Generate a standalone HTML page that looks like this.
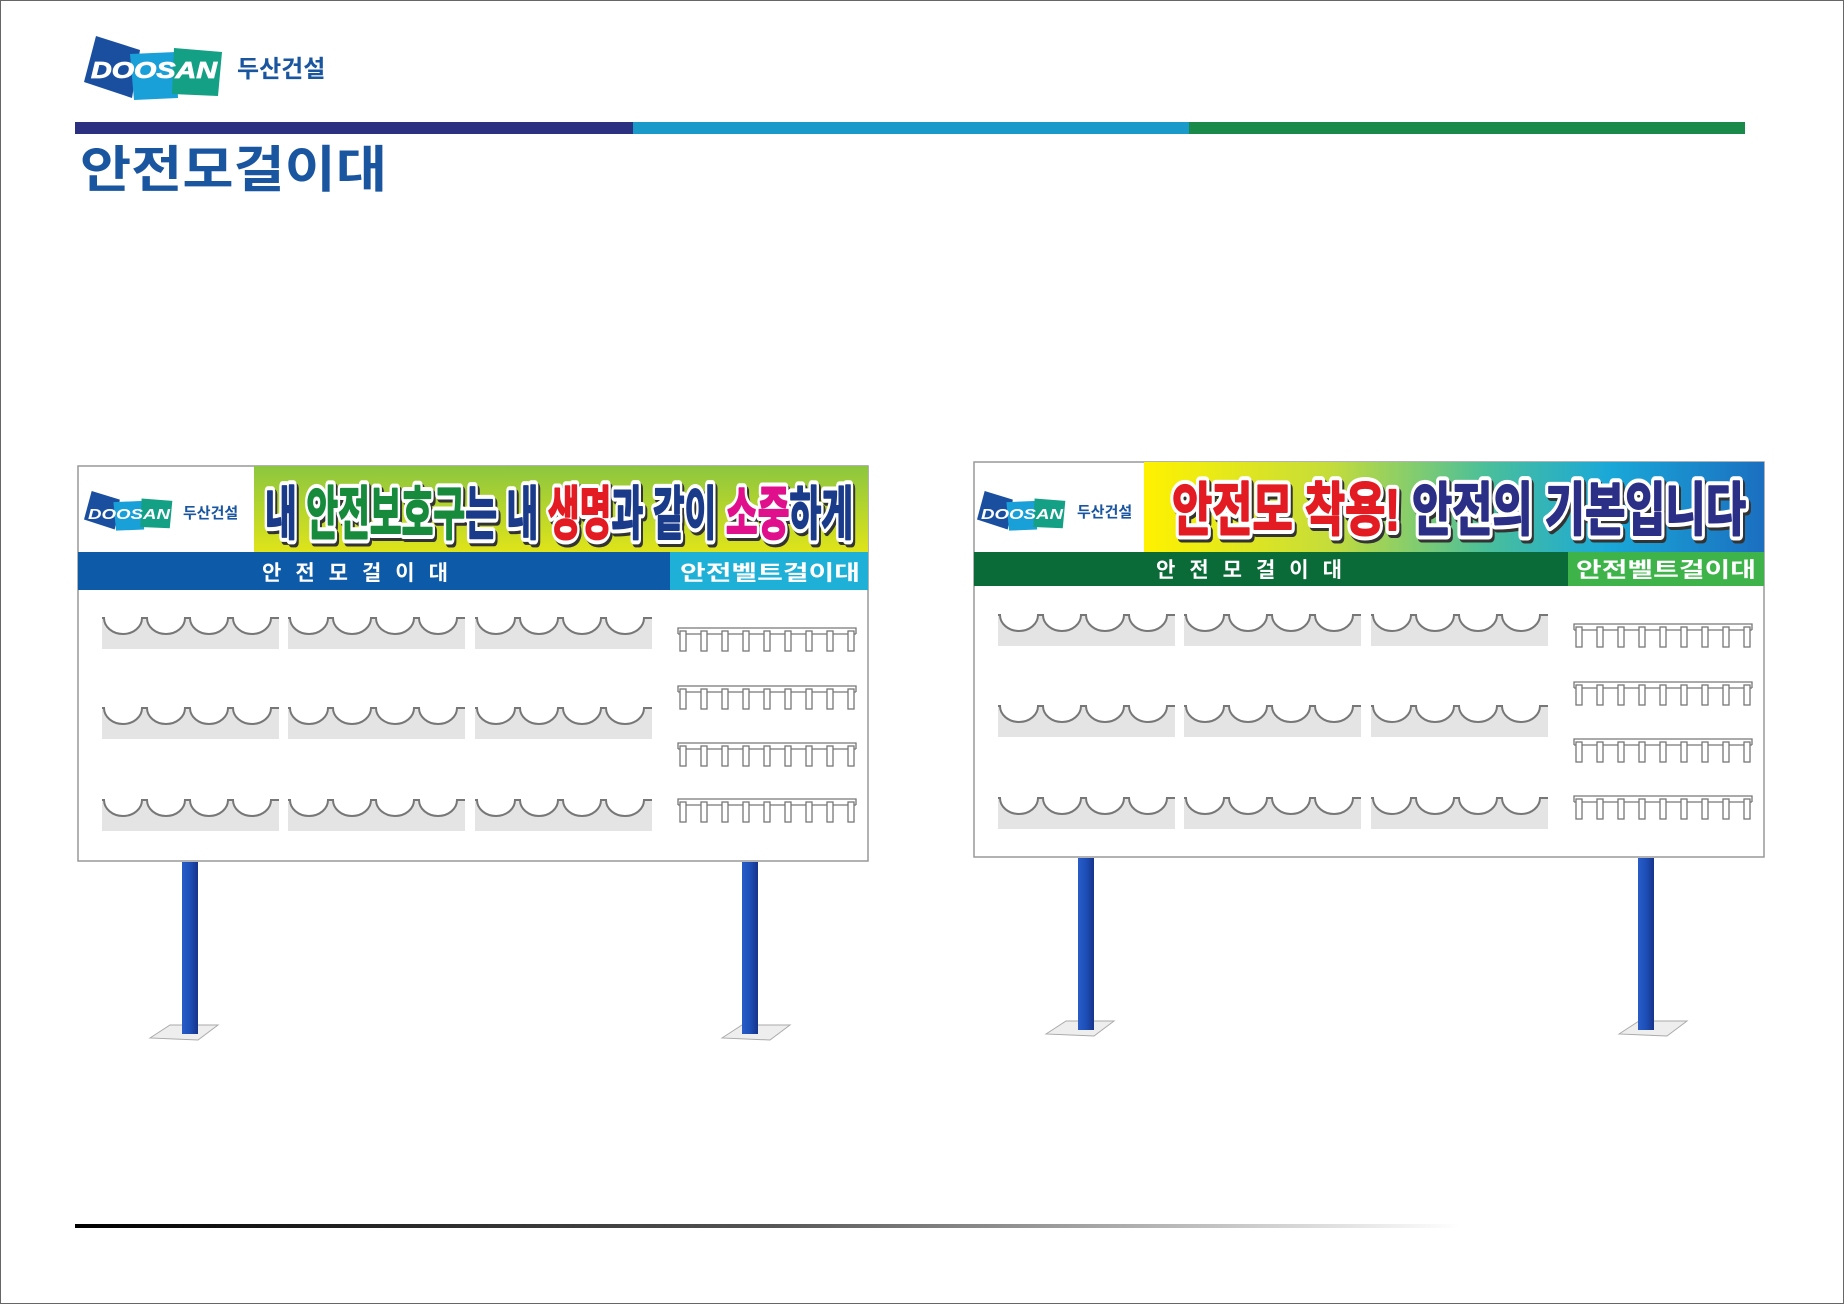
<!DOCTYPE html>
<html><head><meta charset="utf-8"><style>
html,body{margin:0;padding:0;background:#fff}
svg{display:block}
text{font-family:"Liberation Sans","Noto Sans CJK KR",sans-serif}
</style></head><body>
<svg width="1844" height="1304" viewBox="0 0 1844 1304" xmlns="http://www.w3.org/2000/svg">
<defs>
<linearGradient id="bl" x1="0" x2="1" y1="0" y2="0"><stop offset="0" stop-color="#000"/><stop offset="0.5" stop-color="#555"/><stop offset="1" stop-color="#fff"/></linearGradient>
<linearGradient id="gy" x1="0" x2="0" y1="0" y2="1"><stop offset="0" stop-color="#8cc63f"/><stop offset="1" stop-color="#dfe41a"/></linearGradient>
<linearGradient id="rb" x1="0" x2="1" y1="0" y2="0"><stop offset="0" stop-color="#fff200"/><stop offset="0.3" stop-color="#c5dc3a"/><stop offset="0.55" stop-color="#4bbf9a"/><stop offset="0.75" stop-color="#1aa8d8"/><stop offset="1" stop-color="#1b6fc0"/></linearGradient>
<linearGradient id="post" x1="0" x2="1"><stop offset="0" stop-color="#2a5cc8"/><stop offset="0.5" stop-color="#1d4fb8"/><stop offset="1" stop-color="#17338a"/></linearGradient>
<g id="rack">
<path d="M2,0 A19,16 0 0 0 40,0 L45,0 A19,16 0 0 0 83,0 L88,0 A19,16 0 0 0 126,0 L131,0 A19,16 0 0 0 169,0 L177,0 L177,31 L0,31 L0,0 Z" fill="#e4e4e4"/>
<path d="M0,0 L2,0 A19,16 0 0 0 40,0 L45,0 A19,16 0 0 0 83,0 L88,0 A19,16 0 0 0 126,0 L131,0 A19,16 0 0 0 169,0 L177,0" fill="none" stroke="#777" stroke-width="2"/>
</g>
<g id="belt" fill="#fff" stroke="#777" stroke-width="1.3">
<path d="M1,6 L1,0 L179,0 L179,6" fill="none"/>
<line x1="1" y1="6" x2="179" y2="6"/>
<rect x="3" y="3" width="6" height="20"/><rect x="24" y="3" width="6" height="20"/><rect x="45" y="3" width="6" height="20"/><rect x="66" y="3" width="6" height="20"/><rect x="87" y="3" width="6" height="20"/><rect x="108" y="3" width="6" height="20"/><rect x="129" y="3" width="6" height="20"/><rect x="150" y="3" width="6" height="20"/><rect x="171" y="3" width="6" height="20"/>
</g>
<g id="logo">
<polygon points="12,0 56,14 48,62 0,46" fill="#1a4fa0"/>
<polygon points="46,18 92,16 94,62 50,64" fill="#1aa0d8"/>
<polygon points="90,12 138,16 134,60 88,58" fill="#13a084"/>
</g>
<g id="plate"><polygon points="0,13 20,0 68,0 48,15" fill="#eee" stroke="#aaa"/></g>
</defs>
<rect x="0.5" y="0.5" width="1843" height="1303" fill="#fff" stroke="#666"/>
<use href="#logo" x="84" y="36"/>
<text x="154" y="78" font-size="23" font-weight="bold" font-style="italic" fill="#fff" stroke="#fff" stroke-width="0.8" text-anchor="middle" textLength="126" lengthAdjust="spacingAndGlyphs">DOOSAN</text>
<text x="237" y="77" font-size="24" font-weight="bold" fill="#1a56a0">두산건설</text>
<rect x="75" y="122" width="558" height="12" fill="#2b3080"/>
<rect x="633" y="122" width="556" height="12" fill="#1a9ac8"/>
<rect x="1189" y="122" width="556" height="12" fill="#1a8a4a"/>
<text x="80" y="187" font-size="50" font-weight="bold" fill="#1a56a0" textLength="307" lengthAdjust="spacingAndGlyphs">안전모걸이대</text>
<rect x="75" y="1224" width="1385" height="4" fill="url(#bl)"/>

<!-- LEFT BOARD -->
<rect x="78" y="466" width="790" height="395" fill="#fff" stroke="#999" stroke-width="1.5"/>
<rect x="254" y="466" width="614" height="86" fill="url(#gy)"/>
<use href="#logo" transform="translate(84,491) scale(0.64,0.62)"/>
<text x="129" y="519" font-size="15" font-weight="bold" font-style="italic" fill="#fff" text-anchor="middle" textLength="82" lengthAdjust="spacingAndGlyphs">DOOSAN</text>
<text x="183" y="518" font-size="15" font-weight="bold" fill="#1a56a0">두산건설</text>
<g font-size="58" font-weight="bold" stroke-linejoin="round">
<text x="265" y="534" fill="#fff" stroke="#fff" stroke-width="10" style="filter:drop-shadow(2px 3px 0 #333)" textLength="588" lengthAdjust="spacingAndGlyphs">내 안전보호구는 내 생명과 같이 소중하게</text>
<text x="265" y="534" stroke-width="2" textLength="588" lengthAdjust="spacingAndGlyphs"><tspan fill="#1a3a8a" stroke="#1a3a8a">내 </tspan><tspan fill="#178a3c" stroke="#178a3c">안전보호구</tspan><tspan fill="#1a3a8a" stroke="#1a3a8a">는 내 </tspan><tspan fill="#e31b23" stroke="#e31b23">생명</tspan><tspan fill="#1a3a8a" stroke="#1a3a8a">과 같이 </tspan><tspan fill="#e0108c" stroke="#e0108c">소중</tspan><tspan fill="#1a3a8a" stroke="#1a3a8a">하게</tspan></text>
</g>
<rect x="78" y="552" width="592" height="38" fill="#0d5aa8"/>
<rect x="670" y="552" width="198" height="38" fill="#1fb0d8"/>
<text x="362" y="580" font-size="21" font-weight="bold" fill="#fff" text-anchor="middle" letter-spacing="14">안전모걸이대</text>
<text x="680" y="580" font-size="21" font-weight="bold" fill="#fff" textLength="180" lengthAdjust="spacingAndGlyphs">안전벨트걸이대</text>
<use href="#rack" x="102" y="618"/><use href="#rack" x="288" y="618"/><use href="#rack" x="475" y="618"/>
<use href="#rack" x="102" y="708"/><use href="#rack" x="288" y="708"/><use href="#rack" x="475" y="708"/>
<use href="#rack" x="102" y="800"/><use href="#rack" x="288" y="800"/><use href="#rack" x="475" y="800"/>
<use href="#belt" x="677" y="628"/><use href="#belt" x="677" y="686"/><use href="#belt" x="677" y="743"/><use href="#belt" x="677" y="799"/>
<use href="#plate" x="150" y="1025"/><use href="#plate" x="722" y="1025"/>
<rect x="182" y="862" width="16" height="172" fill="url(#post)"/>
<rect x="742" y="862" width="16" height="172" fill="url(#post)"/>

<!-- RIGHT BOARD -->
<rect x="974" y="462" width="790" height="395" fill="#fff" stroke="#999" stroke-width="1.5"/>
<rect x="1144" y="462" width="620" height="90" fill="url(#rb)"/>
<use href="#logo" transform="translate(977,491) scale(0.64,0.62)"/>
<text x="1022" y="519" font-size="15" font-weight="bold" font-style="italic" fill="#fff" text-anchor="middle" textLength="82" lengthAdjust="spacingAndGlyphs">DOOSAN</text>
<text x="1077" y="517" font-size="15" font-weight="bold" fill="#1a56a0">두산건설</text>
<g font-size="58" font-weight="bold" stroke-linejoin="round">
<text x="1172" y="530" fill="#fff" stroke="#fff" stroke-width="10" style="filter:drop-shadow(2px 3px 0 #333)" textLength="574" lengthAdjust="spacingAndGlyphs">안전모 착용! 안전의 기본입니다</text>
<text x="1172" y="530" stroke-width="2" textLength="574" lengthAdjust="spacingAndGlyphs"><tspan fill="#e31b23" stroke="#e31b23">안전모 착용! </tspan><tspan fill="#2b2f86" stroke="#2b2f86">안전의 기본입니다</tspan></text>
</g>
<rect x="974" y="552" width="594" height="34" fill="#0a6b38"/>
<rect x="1568" y="552" width="196" height="34" fill="#3db34a"/>
<text x="1256" y="577" font-size="21" font-weight="bold" fill="#fff" text-anchor="middle" letter-spacing="14">안전모걸이대</text>
<text x="1576" y="577" font-size="21" font-weight="bold" fill="#fff" textLength="180" lengthAdjust="spacingAndGlyphs">안전벨트걸이대</text>
<use href="#rack" x="998" y="615"/><use href="#rack" x="1184" y="615"/><use href="#rack" x="1371" y="615"/>
<use href="#rack" x="998" y="706"/><use href="#rack" x="1184" y="706"/><use href="#rack" x="1371" y="706"/>
<use href="#rack" x="998" y="798"/><use href="#rack" x="1184" y="798"/><use href="#rack" x="1371" y="798"/>
<use href="#belt" x="1573" y="624"/><use href="#belt" x="1573" y="682"/><use href="#belt" x="1573" y="739"/><use href="#belt" x="1573" y="796"/>
<use href="#plate" x="1046" y="1021"/><use href="#plate" x="1619" y="1021"/>
<rect x="1078" y="858" width="16" height="172" fill="url(#post)"/>
<rect x="1638" y="858" width="16" height="172" fill="url(#post)"/>
</svg>
</body></html>
